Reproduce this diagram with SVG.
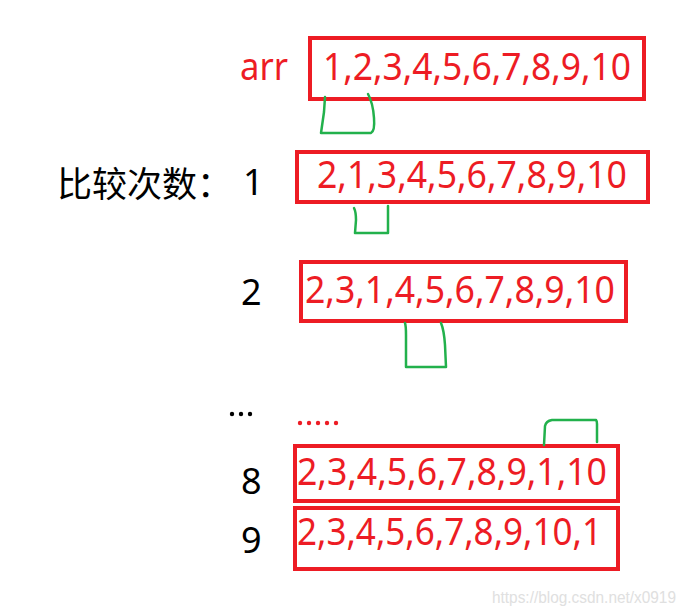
<svg xmlns="http://www.w3.org/2000/svg" width="690" height="616" viewBox="0 0 690 616">
<style>
.box{fill:none;stroke:#ed1c24;stroke-width:4}
.num{font-family:"Noto Sans","Liberation Sans",sans-serif;font-size:38px;fill:#ed1c24}
.lbl{font-family:"Noto Sans","Liberation Sans",sans-serif;font-size:36px;fill:#000}
.cjk{font-family:"Noto Sans CJK SC","Noto Sans",sans-serif;font-size:35px;fill:#000}
.br{fill:none;stroke:#22b14c;stroke-width:2.5;stroke-linecap:round;stroke-linejoin:round}
.wm{font-family:"Liberation Sans",sans-serif;font-size:16px;fill:#e0e0e0}
</style>
<rect width="690" height="616" fill="#fff"/>
<g id="label-title"><text class="cjk" x="57" y="197">比较次数：</text></g>
<g id="row-arr">
<text class="num" x="240" y="80" textLength="48" lengthAdjust="spacingAndGlyphs">arr</text>
<rect class="box" x="310" y="38" width="334" height="61"/>
<text class="num" x="323" y="80" textLength="308" lengthAdjust="spacingAndGlyphs">1,2,3,4,5,6,7,8,9,10</text>
</g>
<g id="row-1">
<text class="lbl" x="243" y="195">1</text>
<rect class="box" x="297" y="152" width="351" height="50"/>
<text class="num" x="317" y="188" textLength="310" lengthAdjust="spacingAndGlyphs">2,1,3,4,5,6,7,8,9,10</text>
</g>
<g id="row-2">
<text class="lbl" x="241" y="305">2</text>
<rect class="box" x="301" y="262" width="325" height="59"/>
<text class="num" x="305" y="303" textLength="310" lengthAdjust="spacingAndGlyphs">2,3,1,4,5,6,7,8,9,10</text>
</g>
<g id="row-dots">
<circle cx="232" cy="414" r="2.2" fill="#000"/><circle cx="241" cy="414" r="2.2" fill="#000"/><circle cx="250" cy="414" r="2.2" fill="#000"/>
<circle cx="300" cy="423" r="2.2" fill="#ed1c24"/><circle cx="309" cy="423" r="2.2" fill="#ed1c24"/><circle cx="318" cy="423" r="2.2" fill="#ed1c24"/><circle cx="327" cy="423" r="2.2" fill="#ed1c24"/><circle cx="336" cy="423" r="2.2" fill="#ed1c24"/>
</g>
<g id="row-8">
<text class="lbl" x="241" y="494">8</text>
<rect class="box" x="295" y="446" width="323" height="55"/>
<text class="num" x="297" y="485" textLength="310" lengthAdjust="spacingAndGlyphs">2,3,4,5,6,7,8,9,1,10</text>
</g>
<g id="row-9">
<text class="lbl" x="241" y="553">9</text>
<rect class="box" x="295" y="508" width="323" height="61"/>
<text class="num" x="297" y="545" textLength="305" lengthAdjust="spacingAndGlyphs">2,3,4,5,6,7,8,9,10,1</text>
</g>
<g id="connectors">
<path class="br" d="M325,97 L324,112 L321,133 L371,133 Q375,131 374,118 Q373,103 368,94"/>
<path class="br" d="M354,208 Q356,212 356,220 L355,233 L388,233 L388,206"/>
<path class="br" d="M405,323 Q406,326 406,335 L406,367 L446,367 L445,345 Q444,330 441,323"/>
<path class="br" d="M544,445 L545,426 Q546,421 552,420 L596,420 Q597,421 597,424 L597,442"/>
</g>
<text class="wm" x="492" y="603" textLength="184" lengthAdjust="spacingAndGlyphs">https://blog.csdn.net/x0919</text>
</svg>
